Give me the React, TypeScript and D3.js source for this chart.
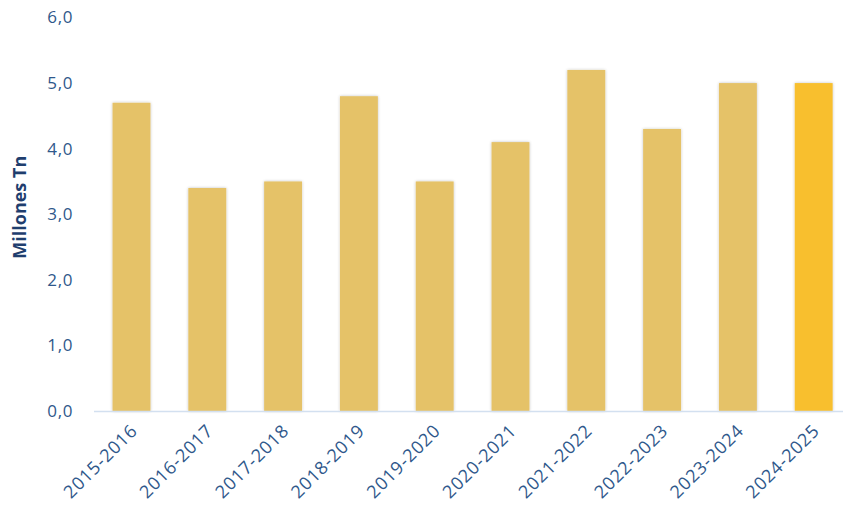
import React from "react";
import * as d3 from "d3";

const categories = ["2015-2016","2016-2017","2017-2018","2018-2019","2019-2020","2020-2021","2021-2022","2022-2023","2023-2024","2024-2025"];
const values = [4.7, 3.4, 3.5, 4.8, 3.5, 4.1, 5.2, 4.3, 5.0, 5.0];
const yTicks = [0, 1, 2, 3, 4, 5, 6];

export default function App() {
  const W = 843, H = 512;
  const x = d3.scaleBand<string>().domain(categories).range([93.6, 851.6]).paddingInner(0.5).paddingOuter(0.25);
  const y = d3.scaleLinear().domain([0, 6]).range([411, 17.5]);
  const fmt = (v: number) => d3.format(".1f")(v).replace(".", ",");
  const font = "'Open Sans', 'Liberation Sans', sans-serif";
  return (
    <svg width={W} height={H} style={{ position: "absolute", left: 0, top: 0, background: "#fff" }} fontFamily={font}>
      <defs>
        <filter id="sh" x="-20%" y="-5%" width="140%" height="110%">
          <feGaussianBlur in="SourceAlpha" stdDeviation="1.5" />
          <feOffset dx="0" dy="0" />
          <feComponentTransfer><feFuncA type="linear" slope="0.25" /></feComponentTransfer>
          <feMerge><feMergeNode /><feMergeNode in="SourceGraphic" /></feMerge>
        </filter>
      </defs>
      {yTicks.map(t => (
        <text key={t} x={73} y={y(t)} dy="0.35em" textAnchor="end" fontSize={17} letterSpacing={0.6} fill="#2F588B">{fmt(t)}</text>
      ))}
      <text transform={`translate(26,${y(3) - 7}) rotate(-90)`} textAnchor="middle" fontSize={18} fontWeight="bold" fill="#1F3E6E">Millones Tn</text>
      {categories.map((c, i) => (
        <rect key={c} x={x(c)} y={y(values[i])} width={x.bandwidth()} height={y(0) - y(values[i])}
          fill={i === categories.length - 1 ? "#F8BF2E" : "#E5C268"} filter="url(#sh)" />
      ))}
      <line x1={94} x2={843} y1={y(0) + 0.5} y2={y(0) + 0.5} stroke="#D3E0F0" strokeWidth={1.5} />
      {categories.map(c => {
        const cx = (x(c) as number) + x.bandwidth() / 2 + 7;
        return (
          <text key={c} transform={`translate(${cx},${y(0) + 21}) rotate(-45)`} textAnchor="end" fontSize={18} letterSpacing={0.8} fill="#2F588B">{c}</text>
        );
      })}
    </svg>
  );
}
